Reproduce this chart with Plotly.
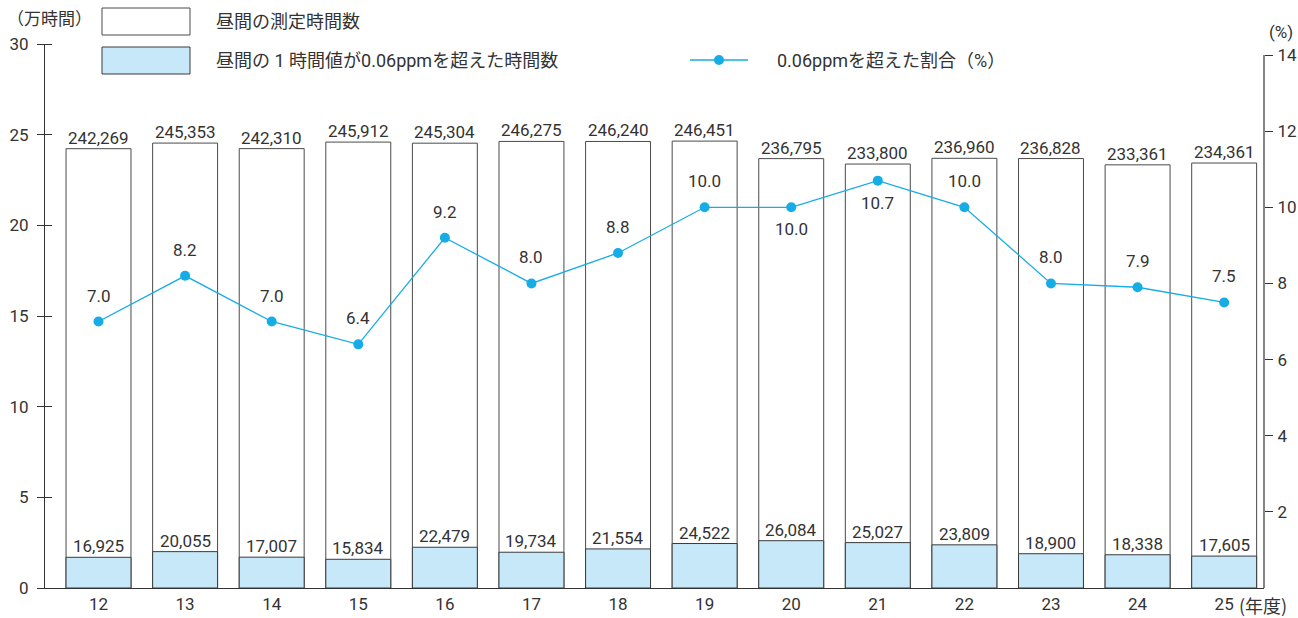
import plotly.graph_objects as go

# 年度
years = ["12", "13", "14", "15", "16", "17", "18", "19", "20", "21", "22", "23", "24", "25"]
# 昼間の測定時間数（時間）
measured_hours = [242269, 245353, 242310, 245912, 245304, 246275, 246240,
                  246451, 236795, 233800, 236960, 236828, 233361, 234361]
# 昼間の1時間値が0.06ppmを超えた時間数（時間）
exceed_hours = [16925, 20055, 17007, 15834, 22479, 19734, 21554,
                24522, 26084, 25027, 23809, 18900, 18338, 17605]
# 0.06ppmを超えた割合（%）
exceed_rate = [7.0, 8.2, 7.0, 6.4, 9.2, 8.0, 8.8, 10.0, 10.0, 10.7, 10.0, 8.0, 7.9, 7.5]
# 割合ラベルを点の下に置く年度
rate_label_below = {"20", "21"}

left_ticks = [0, 5, 10, 15, 20, 25, 30]
right_ticks = [2, 4, 6, 8, 10, 12, 14]

NUM_FONT = "Roboto, sans-serif"
JP_FONT = "Roboto, 'Noto Sans CJK JP', sans-serif"
CJK_FONT = "'Noto Sans CJK JP', sans-serif"
TXT = "#333333"
BLUE_FILL = "#c6e8f8"
LINE_BLUE = "#16ace6"
NS = 17  # 数値ラベルの文字サイズ

measured_man = [v / 10000 for v in measured_hours]
exceed_man = [v / 10000 for v in exceed_hours]
xi = list(range(len(years)))

fig = go.Figure()

fig.add_trace(go.Bar(
    x=xi, y=measured_man, width=0.75,
    marker=dict(color="white", line=dict(color="#4a4a4a", width=1)),
    name="昼間の測定時間数", showlegend=False, hoverinfo="skip",
))
fig.add_trace(go.Bar(
    x=xi, y=exceed_man, width=0.75,
    marker=dict(color=BLUE_FILL, line=dict(color="#3a3a3a", width=1)),
    name="昼間の１時間値が0.06ppmを超えた時間数", showlegend=False, hoverinfo="skip",
))
fig.add_trace(go.Scatter(
    x=xi, y=exceed_rate, yaxis="y2", mode="lines+markers",
    line=dict(color=LINE_BLUE, width=1.3),
    marker=dict(color=LINE_BLUE, size=10),
    name="0.06ppmを超えた割合（%）", showlegend=False, hoverinfo="skip",
))

annotations = []
for i, m, e, mv, ev in zip(xi, measured_hours, exceed_hours, measured_man, exceed_man):
    annotations.append(dict(x=i, y=mv, xref="x", yref="y", text=f"{m:,}",
                            showarrow=False, yanchor="bottom", yshift=-1,
                            font=dict(size=NS, color=TXT, family=NUM_FONT)))
    annotations.append(dict(x=i, y=ev, xref="x", yref="y", text=f"{e:,}",
                            showarrow=False, yanchor="bottom", yshift=-1,
                            font=dict(size=NS, color=TXT, family=NUM_FONT)))
for i, yr, r in zip(xi, years, exceed_rate):
    below = yr in rate_label_below
    annotations.append(dict(x=i, y=r, xref="x", yref="y2", text=f"{r:.1f}",
                            showarrow=False, yanchor="middle",
                            yshift=-22 if below else 26,
                            font=dict(size=NS, color=TXT, family=NUM_FONT)))

W, H = 1298, 618
ML, MR, MT, MB = 45, 34, 44, 30
PW, PH = W - ML - MR, H - MT - MB


def px_x(px):
    return (px - ML) / PW


def px_y(py):
    return 1 - (py - MT) / PH


def label(px, py, text, anchor="left", size=16, family=JP_FONT):
    return dict(x=px_x(px), y=px_y(py), xref="paper", yref="paper", text=text,
                showarrow=False, xanchor=anchor, yanchor="middle",
                font=dict(size=size, color=TXT, family=family))


# 軸の単位・凡例テキスト
annotations += [
    label(5, 18, "（万時間）", size=17, family=CJK_FONT),
    label(1295, 32, "(%)", anchor="right", size=17, family=NUM_FONT),
    label(1237, 605, "(年度)", anchor="left", size=18, family=CJK_FONT),
    label(214, 21, "昼間の測定時間数", size=18),
    label(214, 60, "昼間の 1 時間値が0.06ppmを超えた時間数", size=18),
    label(775, 60, "0.06ppmを超えた割合（%）", size=18),
]

shapes = [
    # 凡例の記号
    dict(type="rect", xref="paper", yref="paper", x0=px_x(102), x1=px_x(190),
         y0=px_y(8), y1=px_y(35), fillcolor="white", line=dict(color="#4a4a4a", width=1)),
    dict(type="rect", xref="paper", yref="paper", x0=px_x(102), x1=px_x(190),
         y0=px_y(47), y1=px_y(74), fillcolor=BLUE_FILL, line=dict(color="#3a3a3a", width=1)),
    dict(type="line", xref="paper", yref="paper", x0=px_x(690), x1=px_x(748),
         y0=px_y(60), y1=px_y(60), line=dict(color=LINE_BLUE, width=1.3)),
    dict(type="circle", xref="paper", yref="paper", x0=px_x(714), x1=px_x(724),
         y0=px_y(55), y1=px_y(65), fillcolor=LINE_BLUE, line=dict(color=LINE_BLUE, width=0)),
    # 右軸の軸線（0〜14）
    dict(type="line", xref="paper", yref="y2", x0=1, x1=1, y0=0, y1=14,
         line=dict(color="#333333", width=1.2)),
]

y2_top = 14 * PH / (PH - 11)

fig.update_layout(
    width=W, height=H,
    margin=dict(l=ML, r=MR, t=MT, b=MB, autoexpand=False),
    paper_bgcolor="white", plot_bgcolor="white",
    barmode="overlay", showlegend=False,
    font=dict(family=NUM_FONT, size=NS, color=TXT),
    annotations=annotations, shapes=shapes,
    xaxis=dict(
        tickmode="array", tickvals=xi, ticktext=years,
        range=[-0.618, 13.46], showgrid=False, zeroline=False,
        showline=True, linecolor="#333333", linewidth=1.2, ticks="",
        tickfont=dict(size=NS, color=TXT, family=NUM_FONT), automargin=False,
    ),
    yaxis=dict(
        range=[0, 30], tickvals=left_ticks, showgrid=False, zeroline=False,
        showline=True, linecolor="#333333", linewidth=1.2,
        ticks="outside", ticklen=7, tickcolor="#333333", tickwidth=1.2,
        minor=dict(tickvals=left_ticks, ticks="inside", ticklen=7,
                   tickcolor="#333333", tickwidth=1.2),
        tickfont=dict(size=NS, color=TXT, family=NUM_FONT), ticklabelstandoff=5,
        automargin=False,
    ),
    yaxis2=dict(
        overlaying="y", side="right", range=[0, y2_top], tickvals=right_ticks,
        showgrid=False, zeroline=False, showline=False,
        ticks="outside", ticklen=8, tickcolor="#333333", tickwidth=1.2,
        tickfont=dict(size=NS, color=TXT, family=NUM_FONT), ticklabelstandoff=1,
        automargin=False,
    ),
)

fig.write_html("out.html")
